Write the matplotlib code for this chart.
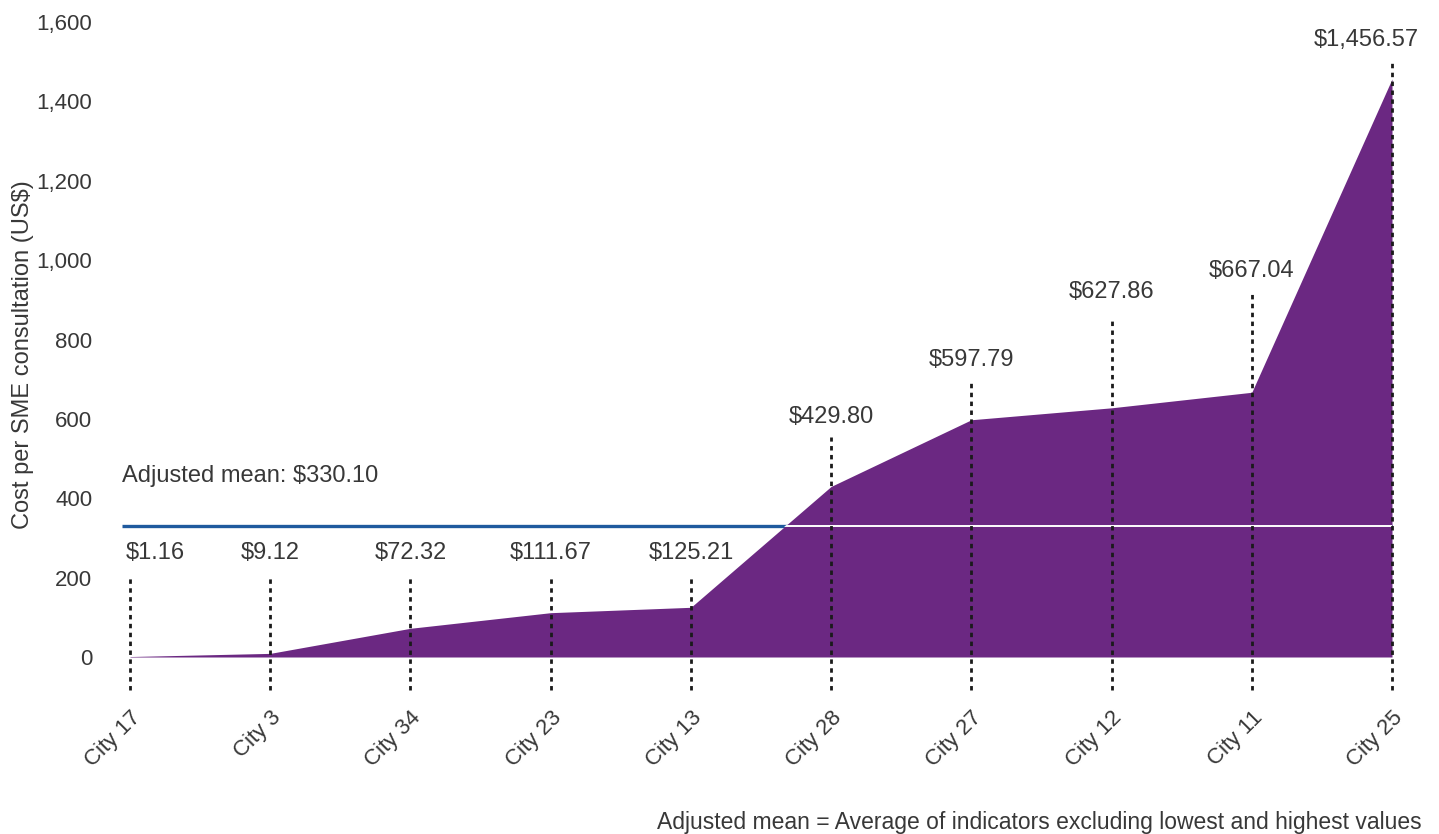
import matplotlib
matplotlib.use("Agg")
import matplotlib.pyplot as plt
import numpy as np

plt.rcParams['font.family'] = ['Liberation Sans', 'DejaVu Sans']

cities = ["City 17", "City 3", "City 34", "City 23", "City 13",
          "City 28", "City 27", "City 12", "City 11", "City 25"]
costs = [1.16, 9.12, 72.32, 111.67, 125.21, 429.80, 597.79, 627.86, 667.04, 1456.57]
adjusted_mean = 330.10
y_ticks = [0, 200, 400, 600, 800, 1000, 1200, 1400, 1600]

# layout of the value labels and their dotted leaders (data units)
label_y = [262, 262, 262, 262, 262, 605, 748, 920, 973, 1555]
label_dx = [0.18, 0, 0, 0, 0, 0, 0, 0, 0, -0.18]
leader_top = [199, 199, 199, 199, 205, 554, 690, 849, 925, 1500]
leader_bottom = -83

purple = "#6b2882"
blue = "#1f5a9e"
grey = "#383838"

W, H = 1439, 834
fig = plt.figure(figsize=(W / 100, H / 100), dpi=100)
ax = fig.add_axes([130 / W, (H - 657) / H, (1392 - 130) / W, (657 - 22) / H])

x = np.arange(len(cities))
ax.set_xlim(0, len(cities) - 1)
ax.set_ylim(0, 1600)

# mean line under the area, white copy clipped to the area
ax.plot([-0.06, x[-1]], [adjusted_mean, adjusted_mean], color=blue, lw=2.4,
        clip_on=False, zorder=1, solid_capstyle='butt')
area = ax.fill_between(x, costs, 0, color=purple, lw=0, zorder=2)
white, = ax.plot([0, x[-1]], [adjusted_mean, adjusted_mean], color="white",
                 lw=1.4, zorder=3)
white.set_clip_path(area.get_paths()[0], transform=ax.transData)

for xi, v, ly, dx, top in zip(x, costs, label_y, label_dx, leader_top):
    ax.plot([xi, xi], [leader_bottom, top], color="#1a1a1a", lw=2.0,
            ls=(0, (1.6, 1.6)), clip_on=False, zorder=4)
    ax.text(xi + dx, ly, "${:,.2f}".format(v), ha="center", va="center",
            fontsize=17, color=grey, zorder=5)

ax.text(-0.06, 456, "Adjusted mean: ${:,.2f}".format(adjusted_mean),
        ha="left", va="center", fontsize=17, color=grey)

ax.set_yticks(y_ticks)
ax.set_yticklabels(["{:,}".format(t) for t in y_ticks])
ax.set_xticks(x)
ax.set_xticklabels(cities, rotation=45, ha="right", rotation_mode="anchor")
ax.tick_params(axis="y", length=0, pad=27, labelsize=16, labelcolor=grey)
ax.tick_params(axis="x", length=0, pad=36, labelsize=16, labelcolor=grey)
for s in ax.spines.values():
    s.set_visible(False)

ax.set_ylabel("Cost per SME consultation (US$)", fontsize=17, color=grey)
ax.yaxis.set_label_coords(-0.076, 0.476)

fig.text(1422 / W, 1 - 822 / H,
         "Adjusted mean = Average of indicators excluding lowest and highest values",
         ha="right", va="center", fontsize=16.5, color=grey)

fig.savefig("out.png", dpi=100)
